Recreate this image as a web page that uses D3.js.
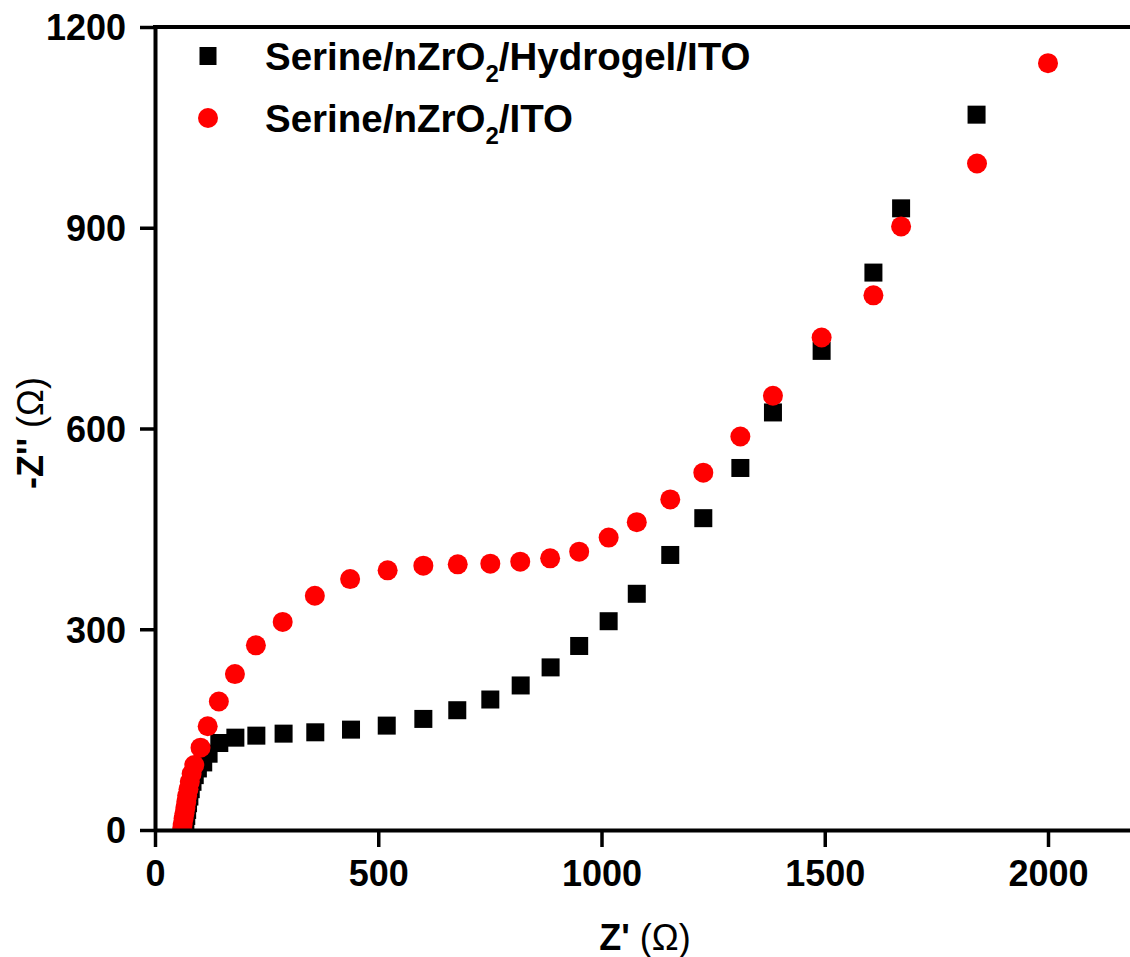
<!DOCTYPE html>
<html>
<head>
<meta charset="utf-8">
<script src="https://cdn.jsdelivr.net/npm/d3@7"></script>
<style>
  body { margin: 0; background: #fff; }
  text { font-family: "Liberation Sans", Arial, sans-serif; font-weight: bold; fill: #000; }
</style>
</head>
<body>
<div id="chart"></div>
<script>
// Serine/nZrO2/Hydrogel/ITO (black squares)
var hydroX = [66, 68, 70, 72, 74, 77, 80, 84, 89, 96, 108, 120, 144, 180, 227, 288, 359, 439, 519, 601,
              677, 751, 819, 886, 950, 1016, 1079, 1154, 1228, 1311, 1384, 1493, 1609, 1671, 1840];
var hydroY = [4, 12, 21, 30, 40, 50, 61, 72, 82, 92, 101, 114, 130, 138, 141, 144, 146, 150, 156, 166,
              179, 195, 216, 243, 275, 312, 353, 411, 466, 541, 624, 716, 833, 929, 1069];

// Serine/nZrO2/ITO (red circles)
var itoX = [61, 62, 64, 66, 68, 70, 72, 75, 78, 82, 88, 102, 118, 143, 179, 226, 286, 358, 437, 521,
            601, 678, 751, 818, 885, 950, 1016, 1079, 1154, 1228, 1311, 1384, 1493, 1609, 1671, 1841, 2000];
var itoY = [3, 9, 17, 25, 33, 42, 51, 61, 72, 84, 97, 123, 155, 192, 233, 276, 311, 350, 375, 388,
            395, 397, 398, 401, 406, 416, 437, 460, 494, 534, 588, 649, 736, 799, 902, 996, 1146];

var xTicks = [0, 500, 1000, 1500, 2000];
var yTicks = [0, 300, 600, 900, 1200];

var width = 1130, height = 957;
var mLeft = 155, mTop = 27, mBottom = 830;

var svg = d3.select('#chart').append('svg')
    .attr('width', width)
    .attr('height', height);

var x = d3.scaleLinear().domain([0, 2200]).range([mLeft, mLeft + 2200 * 0.4465]);
var y = d3.scaleLinear().domain([0, 1200]).range([mBottom, mTop]);

// clip the markers to the frame
svg.append('clipPath').attr('id', 'clip')
  .append('rect')
    .attr('x', mLeft).attr('y', mTop)
    .attr('width', width - mLeft).attr('height', mBottom - mTop);

var plot = svg.append('g').attr('clip-path', 'url(#clip)');

var hydro = hydroX.map(function (d, i) { return { x: d, y: hydroY[i] }; });
var ito = itoX.map(function (d, i) { return { x: d, y: itoY[i] }; });

var sq = 18, r = 10;

plot.selectAll('.sq')
    .data(hydro)
    .enter().append('rect')
    .attr('class', 'sq')
    .attr('x', d => x(d.x) - sq / 2)
    .attr('y', d => y(d.y) - sq / 2)
    .attr('width', sq)
    .attr('height', sq)
    .attr('fill', '#000');

plot.selectAll('.dot')
    .data(ito)
    .enter().append('circle')
    .attr('class', 'dot')
    .attr('cx', d => x(d.x))
    .attr('cy', d => y(d.y))
    .attr('r', r)
    .attr('fill', '#ff0000');

// axes
var xAxis = svg.append('g')
    .attr('transform', 'translate(0,' + mBottom + ')')
    .call(d3.axisBottom(x).tickValues(xTicks).tickFormat(d3.format('d'))
      .tickSize(17).tickPadding(13).tickSizeOuter(0));

var yAxis = svg.append('g')
    .attr('transform', 'translate(' + mLeft + ',0)')
    .call(d3.axisLeft(y).tickValues(yTicks).tickFormat(d3.format('d'))
      .tickSize(15).tickPadding(14).tickSizeOuter(0));

[xAxis, yAxis].forEach(function (g) {
  g.select('.domain').attr('stroke', '#000').attr('stroke-width', 4);
  g.selectAll('.tick line').attr('stroke', '#000').attr('stroke-width', 3.5);
  g.selectAll('.tick text')
      .style('font-family', '"Liberation Sans", Arial, sans-serif')
      .style('font-weight', 'bold')
      .style('font-size', '36px')
      .attr('fill', '#000');
});
yAxis.selectAll('.tick text').attr('dy', '0.36em');

// top frame line
svg.append('line')
    .attr('x1', mLeft - 2).attr('x2', width)
    .attr('y1', mTop).attr('y2', mTop)
    .attr('stroke', '#000').attr('stroke-width', 4);

// axis titles
var xt = svg.append('text')
    .attr('x', 645).attr('y', 950)
    .attr('text-anchor', 'middle')
    .style('font-size', '36px');
xt.append('tspan').text("Z' ");
xt.append('tspan').style('font-weight', 'normal').text('(Ω)');

var yt = svg.append('text')
    .attr('transform', 'translate(43,433) rotate(-90)')
    .attr('text-anchor', 'middle')
    .style('font-size', '36px');
yt.append('tspan').text("-Z'' ");
yt.append('tspan').style('font-weight', 'normal').text('(Ω)');

// legend
var legend = [
  { name: 'Serine/nZrO', tail: '/Hydrogel/ITO', shape: 'sq', cy: 56 },
  { name: 'Serine/nZrO', tail: '/ITO', shape: 'dot', cy: 118 }
];

legend.forEach(function (l) {
  if (l.shape === 'sq') {
    svg.append('rect')
        .attr('x', 208 - 8.5).attr('y', l.cy - 9)
        .attr('width', 17).attr('height', 18)
        .attr('fill', '#000');
  } else {
    svg.append('circle')
        .attr('cx', 208).attr('cy', l.cy).attr('r', 10)
        .attr('fill', '#ff0000');
  }
  var t = svg.append('text')
      .attr('x', 265).attr('y', l.cy + 13.5)
      .style('font-size', '38.5px');
  t.append('tspan').text(l.name);
  t.append('tspan').attr('dy', 12).style('font-size', '24px').text('2');
  t.append('tspan').attr('dy', -12).text(l.tail);
});
</script>
</body>
</html>
